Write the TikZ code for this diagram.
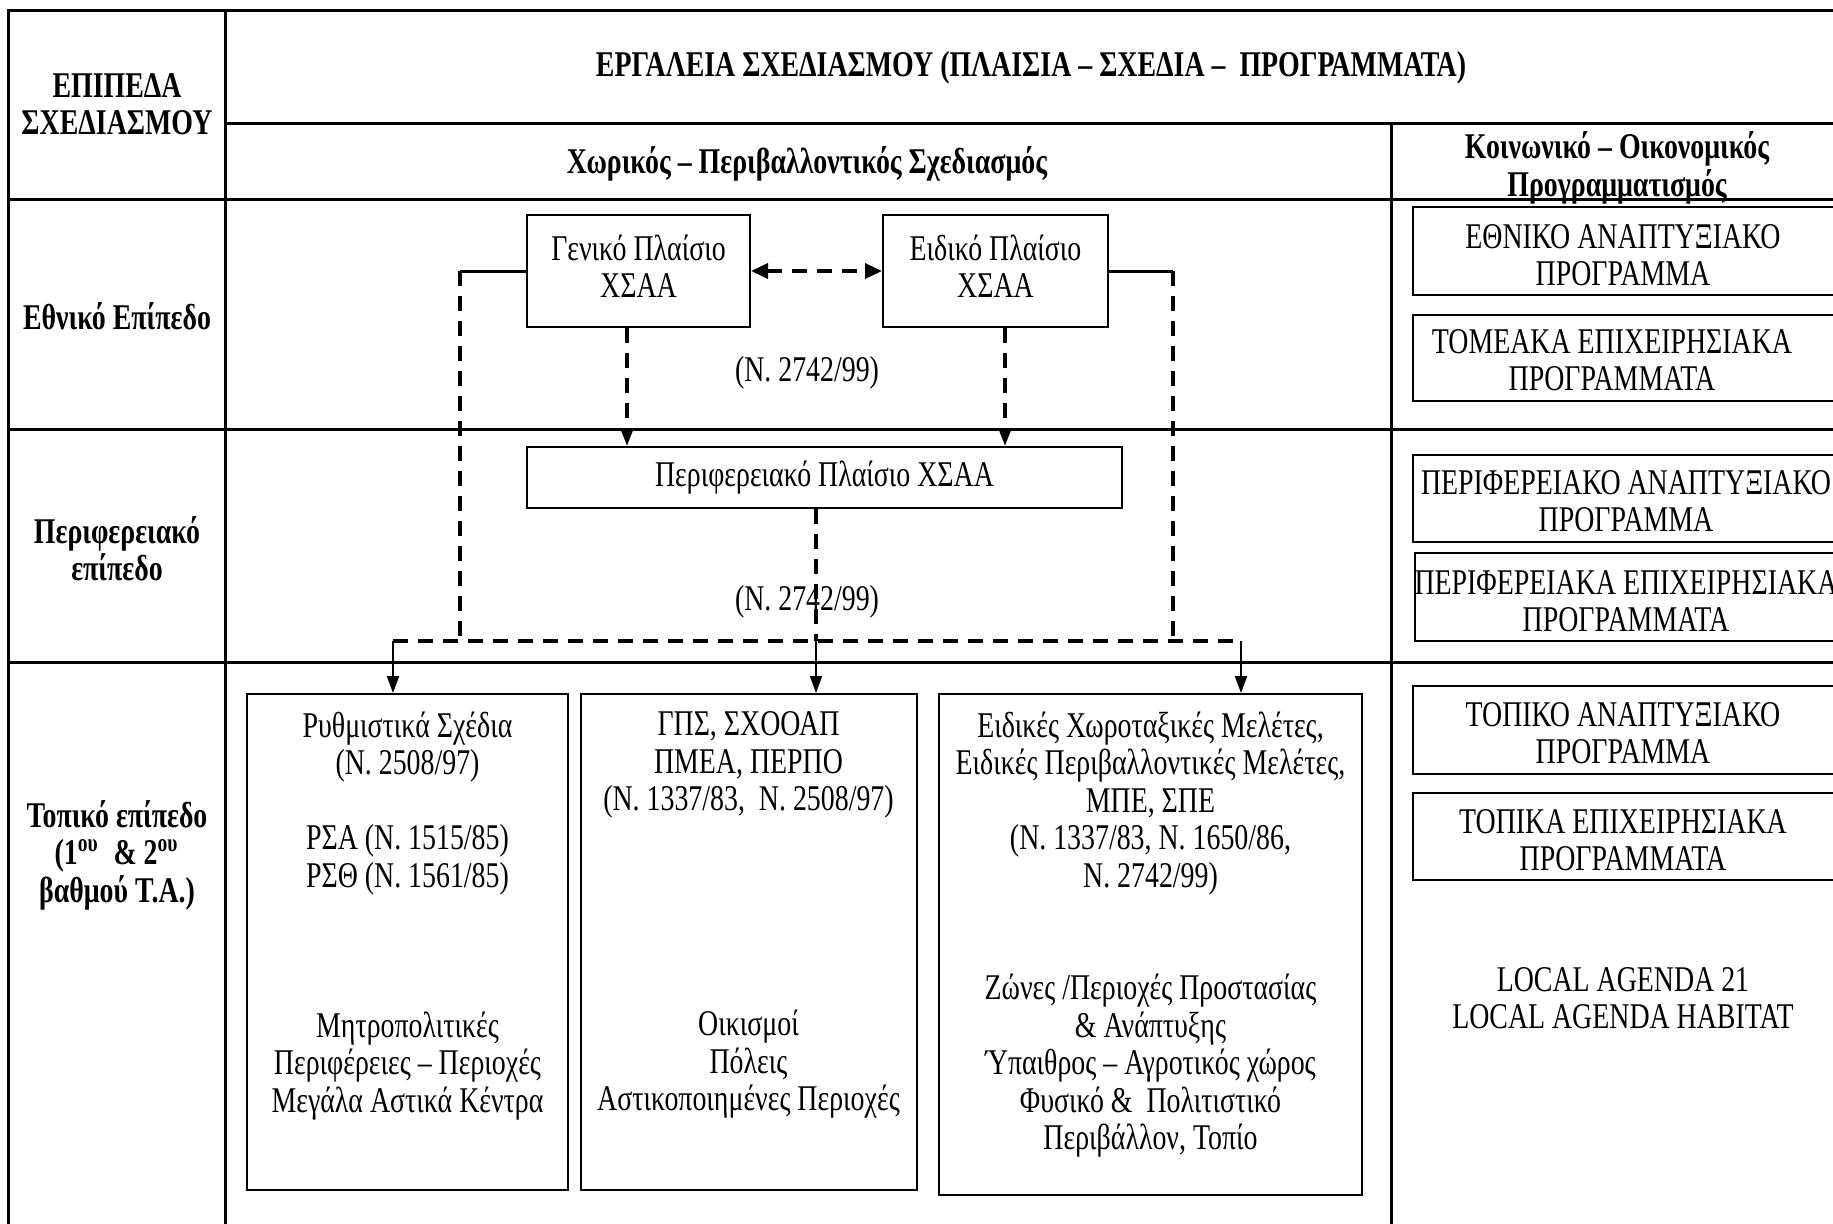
\documentclass[tikz,border=0pt]{standalone}
\usepackage{fontspec}
\setmainfont{Liberation Serif}[FakeStretch=0.77]
\usetikzlibrary{arrows.meta}
\newcommand{\diagfont}{\fontsize{10.3}{10.67}\selectfont}
\tikzset{tabline/.style={line width = 0.03cm}}
\tikzset{boxnode/.style={draw, line width = 0.02cm, inner sep = 0pt}}
\tikzset{hdrtext/.style={font = \diagfont\bfseries, align = center, inner sep = 0pt}}
\tikzset{plaintext/.style={font = \diagfont, align = center, inner sep = 0pt}}
\tikzset{dashln/.style={line width = 0.034cm, dash pattern = on 0.15cm off 0.10cm}}
\tikzset{arrtip/.style={-{Triangle[length=0.17cm,width=0.12cm]}}}
\tikzset{arrln/.style={line width = 0.02cm, arrtip}}

\begin{document}
\begin{tikzpicture}
\useasboundingbox (0,0) rectangle (18.33,-12.23);
\clip (0,0) rectangle (18.33,-12.23);
% table frame
\draw[tabline] (0.09,-12.5) -- (0.09,-0.10) -- (18.6,-0.10);
\draw[tabline] (2.25,-0.10) -- (2.25,-12.5);
\draw[tabline] (2.25,-1.23) -- (18.6,-1.23);
\draw[tabline] (0.09,-1.99) -- (18.6,-1.99);
\draw[tabline] (13.91,-1.23) -- (13.91,-12.5);
\draw[tabline] (0.09,-4.29) -- (18.6,-4.29);
\draw[tabline] (0.09,-6.62) -- (18.6,-6.62);
% headers
\node[hdrtext] (epipeda) at (1.17,-1.04) {ΕΠΙΠΕΔΑ\\ΣΧΕΔΙΑΣΜΟΥ};
\node[hdrtext] (ergaleia) at (10.31,-0.68) {ΕΡΓΑΛΕΙΑ ΣΧΕΔΙΑΣΜΟΥ (ΠΛΑΙΣΙΑ – ΣΧΕΔΙΑ –\ \ ΠΡΟΓΡΑΜΜΑΤΑ)};
\node[hdrtext] (xoriko) at (8.07,-1.64) {Χωρικός – Περιβαλλοντικός Σχεδιασμός};
\node[hdrtext] (koinoniko) at (16.17,-1.68) {Κοινωνικό – Οικονομικός\\Προγραμματισμός};
\node[hdrtext] (ethniko) at (1.17,-3.16) {Εθνικό Επίπεδο};
\node[hdrtext] (perifereiako) at (1.17,-5.49) {Περιφερειακό\\επίπεδο};
\node[hdrtext] (topiko) at (1.17,-8.55) {Τοπικό επίπεδο\\(1\textsuperscript{ου}\ \ \& 2\textsuperscript{ου}\\βαθμού Τ.Α.)};
% spatial planning
\node[boxnode, plaintext, minimum width = 2.23cm, minimum height = 1.12cm] (gen) at (6.385,-2.71) {Γενικό Πλαίσιο\\ΧΣΑΑ\\[-8pt]};
\node[boxnode, plaintext, minimum width = 2.25cm, minimum height = 1.12cm] (eid) at (9.955,-2.71) {Ειδικό Πλαίσιο\\ΧΣΑΑ\\[-8pt]};
\node[boxnode, plaintext, minimum width = 5.95cm, minimum height = 0.61cm] (per) at (8.245,-4.775) {Περιφερειακό Πλαίσιο ΧΣΑΑ};
\node[plaintext] (nomos1) at (8.07,-3.73) {(Ν. 2742/99)};
\node[plaintext] (nomos2) at (8.07,-6.02) {(Ν. 2742/99)};
\node[boxnode, minimum width = 3.21cm, minimum height = 4.96cm] (rs) at (4.075,-9.42) {};
\node[boxnode, minimum width = 3.36cm, minimum height = 4.96cm] (gps) at (7.485,-9.42) {};
\node[boxnode, minimum width = 4.23cm, minimum height = 5.01cm] (eidikes) at (11.505,-9.445) {};
\node[plaintext, anchor = north] (rstext) at (4.075,-7.11) {Ρυθμιστικά Σχέδια\\(Ν. 2508/97)\\[10.67pt]ΡΣΑ (Ν. 1515/85)\\ΡΣΘ (Ν. 1561/85)\\[32pt]Μητροπολιτικές\\Περιφέρειες – Περιοχές\\Μεγάλα Αστικά Κέντρα};
\node[plaintext, anchor = north] (gpstext) at (7.485,-7.11) {ΓΠΣ, ΣΧΟΟΑΠ\\ΠΜΕΑ, ΠΕΡΠΟ\\(Ν. 1337/83,\ \ Ν. 2508/97)\\[53.35pt]Οικισμοί\\Πόλεις\\Αστικοποιημένες Περιοχές};
\node[plaintext, anchor = north] (eidtext) at (11.505,-7.11) {Ειδικές Χωροταξικές Μελέτες,\\Ειδικές Περιβαλλοντικές Μελέτες,\\ΜΠΕ, ΣΠΕ\\(Ν. 1337/83, Ν. 1650/86,\\Ν. 2742/99)\\[21.34pt]Ζώνες /Περιοχές Προστασίας\\\& Ανάπτυξης\\Ύπαιθρος – Αγροτικός χώρος\\Φυσικό \&\ \ Πολιτιστικό\\Περιβάλλον, Τοπίο};
% connectors
\coordinate (gl) at (4.60,-2.71);
\coordinate (er) at (11.73,-2.71);
\coordinate (cl) at (4.60,-6.41);
\coordinate (cr) at (11.73,-6.41);
\coordinate (jl) at (3.93,-6.41);
\coordinate (jm) at (8.16,-6.41);
\coordinate (jr) at (12.41,-6.41);
\draw[dashln, {Triangle[length=0.17cm,width=0.15cm]}-{Triangle[length=0.17cm,width=0.15cm]}] (gen.east) -- (eid.west);
\draw[dashln, arrtip] ([xshift=-0.115cm]gen.south) -- ([xshift=-0.115cm]gen.south |- per.north);
\draw[dashln, arrtip] ([xshift=0.095cm]eid.south) -- ([xshift=0.095cm]eid.south |- per.north);
\draw[tabline] (gen.west) -- (gl);
\draw[tabline] (eid.east) -- (er);
\draw[dashln] (gl) -- (cl);
\draw[dashln] (er) -- (cr);
\draw[dashln] (jl) -- (jr);
\draw[dashln] (per.south -| jm) -- (jm);
\draw[arrln] (jl) -- (jl |- rs.north);
\draw[arrln] (jm) -- (jm |- gps.north);
\draw[arrln] (jr) -- (jr |- eidikes.north);
% socio-economic programming
\draw[boxnode] (14.13,-2.07) rectangle (18.6,-2.95);
\draw[boxnode] (14.13,-3.15) rectangle (18.6,-4.01);
\draw[boxnode] (14.13,-4.55) rectangle (18.6,-5.42);
\draw[boxnode] (14.15,-5.53) rectangle (18.6,-6.41);
\draw[boxnode] (14.13,-6.86) rectangle (18.6,-7.74);
\draw[boxnode] (14.13,-7.93) rectangle (18.6,-8.80);
\node[plaintext] (eap) at (16.23,-2.55) {ΕΘΝΙΚΟ ΑΝΑΠΤΥΞΙΑΚΟ\\ΠΡΟΓΡΑΜΜΑ};
\node[plaintext] (tep) at (16.12,-3.60) {ΤΟΜΕΑΚΑ ΕΠΙΧΕΙΡΗΣΙΑΚΑ\\ΠΡΟΓΡΑΜΜΑΤΑ};
\node[plaintext] (pap) at (16.26,-5.01) {ΠΕΡΙΦΕΡΕΙΑΚΟ ΑΝΑΠΤΥΞΙΑΚΟ\\ΠΡΟΓΡΑΜΜΑ};
\node[plaintext] (pep) at (16.26,-6.01) {ΠΕΡΙΦΕΡΕΙΑΚΑ ΕΠΙΧΕΙΡΗΣΙΑΚΑ\\ΠΡΟΓΡΑΜΜΑΤΑ};
\node[plaintext] (tap) at (16.23,-7.33) {ΤΟΠΙΚΟ ΑΝΑΠΤΥΞΙΑΚΟ\\ΠΡΟΓΡΑΜΜΑ};
\node[plaintext] (topep) at (16.23,-8.40) {ΤΟΠΙΚΑ ΕΠΙΧΕΙΡΗΣΙΑΚΑ\\ΠΡΟΓΡΑΜΜΑΤΑ};
\node[plaintext] (agenda) at (16.23,-9.98) {LOCAL AGENDA 21\\LOCAL AGENDA HABITAT};
\end{tikzpicture}
\end{document}
